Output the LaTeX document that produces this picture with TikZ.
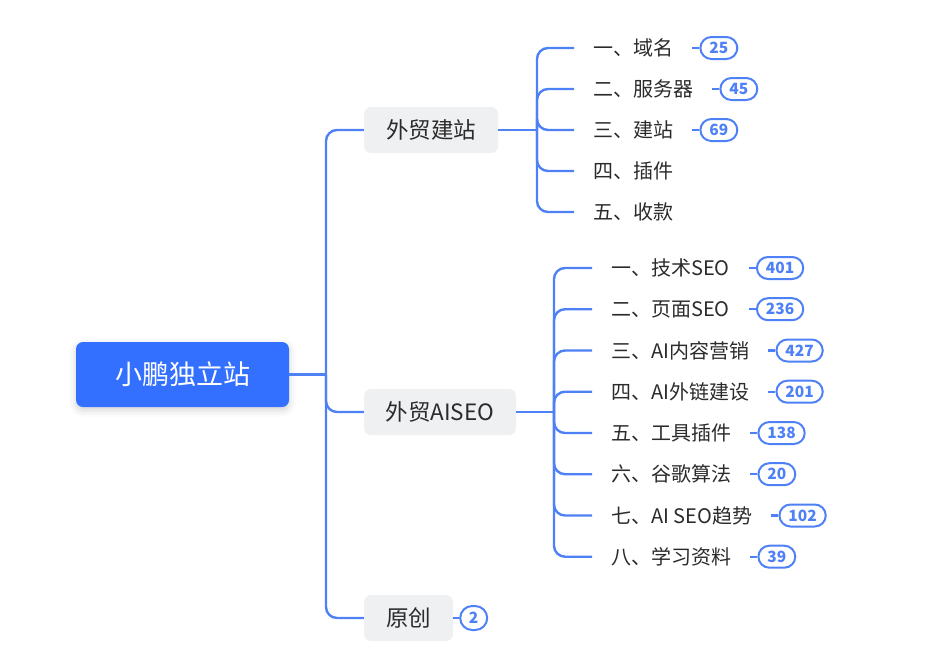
\documentclass[tikz,border=0pt]{standalone}
\usepackage{fontspec}
\setmainfont{Noto Sans CJK SC}
\usetikzlibrary{positioning,shadows.blur}
\definecolor{rootblue}{HTML}{3370FF}
\definecolor{linkblue}{HTML}{4E80F6}
\definecolor{boxgray}{HTML}{EFF0F2}
\definecolor{txt}{HTML}{2B2B2B}
\tikzset{
  rootbox/.style={rounded corners=7pt, fill=rootblue, text=white, minimum width=213pt, minimum height=65pt,
    font=\fontsize{27}{32}\selectfont,
    blur shadow={shadow xshift=0pt, shadow yshift=-3pt, shadow blur radius=7pt, shadow opacity=18}},
  lonebox/.style={rounded corners=7pt, fill=boxgray, text=txt, minimum height=46pt, font=\fontsize{22.5}{27}\selectfont},
  leaf/.style={anchor=west, inner xsep=19pt, inner ysep=0pt, text=txt, font=\fontsize{20}{24}\selectfont},
  badge/.style={draw=linkblue, line width=2pt, fill=white, rounded corners=11pt, minimum height=22pt,
    inner xsep=9pt, inner ysep=0pt, text=linkblue, font=\fontsize{15.5}{18}\selectfont\bfseries, right=7pt of #1},
  link/.style={draw=linkblue, line width=2.4pt, rounded corners=11pt},
  tickline/.style={draw=linkblue, line width=2.4pt},
}
\begin{document}
\begin{tikzpicture}[x=1pt,y=-1pt]
\useasboundingbox (0,0) rectangle (926,665);
% root and level 1
\node[rootbox] (root) at (182.5,374.5) {小鹏独立站};
\node[lonebox, minimum width=134pt] (jz) at (431,130) {外贸建站};
\node[lonebox, minimum width=152pt] (seo) at (440,412) {外贸AISEO};
\node[lonebox, minimum width=89pt] (yc) at (408.5,618) {原创};
\coordinate (trunk) at (326,374.5);
\coordinate (spA) at (537,130);
\coordinate (spB) at (554,412);
% level 2 under 外贸建站
\node[leaf] (a1) at (574,48) {一、域名};
\node[leaf] (a2) at (574,89) {二、服务器};
\node[leaf] (a3) at (574,130) {三、建站};
\node[leaf] (a4) at (574,171) {四、插件};
\node[leaf] (a5) at (574,212) {五、收款};
% level 2 under 外贸AISEO
\node[leaf] (s1) at (592,268) {一、技术SEO};
\node[leaf] (s2) at (592,309.2) {二、页面SEO};
\node[leaf] (s3) at (592,350.5) {三、AI内容营销};
\node[leaf] (s4) at (592,391.7) {四、AI外链建设};
\node[leaf] (s5) at (592,433) {五、工具插件};
\node[leaf] (s6) at (592,474.2) {六、谷歌算法};
\node[leaf] (s7) at (592,515.5) {七、AI SEO趋势};
\node[leaf] (s8) at (592,556.7) {八、学习资料};
% badges
\node[badge=a1] (ba1) {25};
\node[badge=a2] (ba2) {45};
\node[badge=a3] (ba3) {69};
\node[badge=s1] (bs1) {401};
\node[badge=s2] (bs2) {236};
\node[badge=s3] (bs3) {427};
\node[badge=s4] (bs4) {201};
\node[badge=s5] (bs5) {138};
\node[badge=s6] (bs6) {20};
\node[badge=s7] (bs7) {102};
\node[badge=s8] (bs8) {39};
\node[badge=yc, inner xsep=0pt, minimum width=27pt, minimum height=24pt, rounded corners=12pt, right=6pt of yc] (byc) {2};
% connectors
\draw[link] (root.east) -- (trunk);
\draw[link] (trunk) |- (jz.west);
\draw[link] (trunk) |- (seo.west);
\draw[link] (trunk) |- (yc.west);
\draw[link] (jz.east) -- (spA);
\foreach \n in {a1,a2,a3,a4,a5} \draw[link] (spA) |- (\n.west);
\draw[link] (seo.east) -- (spB);
\foreach \n in {s1,s2,s3,s4,s5,s6,s7,s8} \draw[link] (spB) |- (\n.west);
\foreach \n in {a1,a2,a3,s1,s2,s3,s4,s5,s6,s7,s8,yc} \draw[tickline] (\n.east) -- (b\n.west);
\end{tikzpicture}
\end{document}
